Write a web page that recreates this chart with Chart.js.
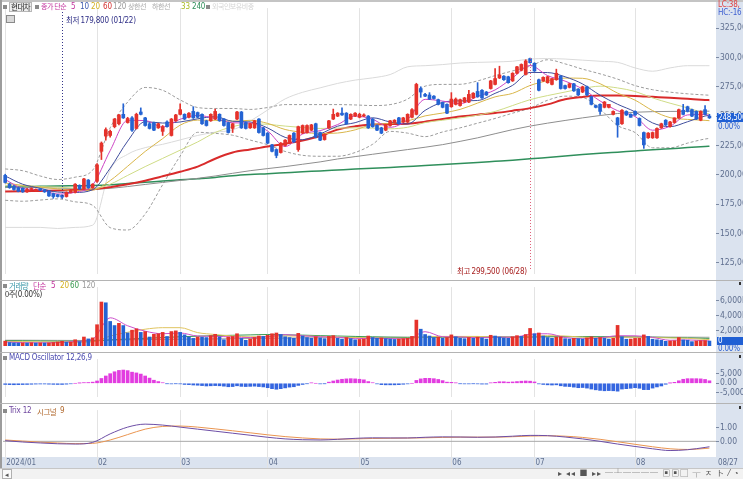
<!DOCTYPE html>
<html lang="ko"><head><meta charset="utf-8">
<script src="https://cdn.jsdelivr.net/npm/chart.js@4.4.1/dist/chart.umd.min.js"></script>
<style>
html,body{margin:0;padding:0}
body{width:743px;height:479px;overflow:hidden;position:relative;background:#fff}
canvas{position:absolute;left:0}
.t{position:absolute;white-space:nowrap;font-family:"Noto Sans CJK KR","Noto Sans",sans-serif;font-size:7px;line-height:9px;letter-spacing:-0.5px}
.n{font-family:"Liberation Sans Narrow","DejaVu Sans Condensed",sans-serif;font-size:8px;letter-spacing:-0.2px}
.hl{position:absolute;left:0;width:743px;height:1px;background:#b4b4b4}
.sq{position:absolute;width:4px;height:4px;background:#8a8a8a}
</style></head><body>
<canvas id="cPrice" width="760" height="278" style="top:2px"></canvas>
<canvas id="cVol" width="760" height="71" style="top:281px"></canvas>
<canvas id="cMacd" width="760" height="50" style="top:353px"></canvas>
<canvas id="cTrix" width="760" height="64" style="top:404px"></canvas>

<div class="hl" style="top:0;background:#c4c4c4;height:2px"></div>
<div style="position:absolute;left:0;top:0;width:2px;height:468px;background:#9c9c9c"></div>
<div class="hl" style="top:280px"></div>
<div class="hl" style="top:352px"></div>
<div class="hl" style="top:403px"></div>

<!-- price header -->
<div class="sq" style="left:3px;top:5px"></div>
<div class="t" style="left:9px;top:2px;border:1px solid #b8b8b8;background:#eeeeee;color:#222;padding:0 1px;line-height:8px;font-size:7.5px">현대차</div>
<div class="sq" style="left:35px;top:5px"></div>
<div class="t" style="left:41px;top:2px;color:#c2309c">종가 단순</div>
<div class="t n" style="left:71px;top:2px;color:#c2309c">5</div>
<div class="t n" style="left:80px;top:2px;color:#3c5ab0">10</div>
<div class="t n" style="left:91px;top:2px;color:#d4b020">20</div>
<div class="t n" style="left:103px;top:2px;color:#d43030">60</div>
<div class="t n" style="left:113px;top:2px;color:#9a9a9a">120</div>
<div class="t" style="left:128px;top:2px;color:#a8a8a8">상한선</div>
<div class="t" style="left:152px;top:2px;color:#a8a8a8">하한선</div>
<div class="t n" style="left:181px;top:2px;color:#a9bb22">33</div>
<div class="t n" style="left:192px;top:2px;color:#2f8f5b">240</div>
<div class="sq" style="left:206px;top:5px"></div>
<div class="t" style="left:212px;top:2px;color:#d4d4d4">외국인보유비중</div>
<div style="position:absolute;left:6px;top:15px;width:7px;height:6px;border:1px solid #8a8a8a;background:#d8d8d8"></div>
<div class="t n" style="left:718px;top:0px;color:#e04040">LC:38,</div>
<div class="t n" style="left:718px;top:8px;color:#3c5ed0">HC:-16</div>
<div id="lowTxt" class="t" style="left:66px;top:15px;color:#2e2e86;font-size:7.5px">최저 <span class="n">179,800 (01/22)</span></div>
<div id="highTxt" class="t" style="left:457px;top:266px;color:#a82020;font-size:7.5px">최고 <span class="n">299,500 (06/28)</span></div>
<div id="curBox" class="t n" style="left:717px;top:112px;width:26px;height:9px;line-height:9px;background:#1f5fd4;color:#fff;padding-left:1px">248,500</div>
<div id="curPct" class="t n" style="left:718px;top:120px;color:#2a5fd0">0.00%</div>

<!-- volume header -->
<div class="sq" style="left:3px;top:284px"></div>
<div class="t" style="left:9px;top:281px;color:#3a98a8;font-size:7.5px">거래량</div>
<div class="t" style="left:33px;top:281px;color:#c2309c;font-size:7.5px">단순</div>
<div class="t n" style="left:51px;top:281px;color:#c2309c">5</div>
<div class="t n" style="left:60px;top:281px;color:#d4b020">20</div>
<div class="t n" style="left:70px;top:281px;color:#3a9a50">60</div>
<div class="t n" style="left:82px;top:281px;color:#9a9a9a">120</div>
<div class="t" style="left:5px;top:289px;color:#333;font-size:7.5px">0주<span class="n">(0.00%)</span></div>
<div class="t n" style="left:717px;top:337px;width:26px;height:8px;line-height:8px;background:#1f5fd4;color:#fff;padding-left:1px">0</div>
<div class="t n" style="left:718px;top:344px;color:#2a5fd0">0.00%</div>

<!-- macd header -->
<div class="sq" style="left:3px;top:356px"></div>
<div class="t n" style="left:9px;top:353px;color:#4b4bb0">MACD Oscillator 12,26,9</div>
<!-- trix header -->
<div class="sq" style="left:3px;top:409px"></div>
<div class="t n" style="left:9px;top:406px;color:#7048a0">Trix 12</div>
<div class="t" style="left:37px;top:407px;color:#b0682c;font-size:7.5px">시그널</div>
<div class="t n" style="left:60px;top:406px;color:#b0682c">9</div>

<div class="t n" style="left:718px;top:458px;color:#5f6f8f">08/27</div>
<div style="position:absolute;left:739px;top:282px;width:2px;height:3px;background:#333"></div>
<div style="position:absolute;left:739px;top:355px;width:2px;height:3px;background:#333"></div>
<div style="position:absolute;left:739px;top:406px;width:2px;height:3px;background:#333"></div>

<!-- bottom toolbar -->
<div style="position:absolute;left:0;top:468px;width:743px;height:11px;background:#f2f2f2;border-top:1px solid #c6c6c6"></div>
<div class="t" style="left:2px;top:469px;width:8px;height:8px;border:1px solid #b0b0b0;background:#fafafa;color:#555;font-size:7px;line-height:8px;text-align:center">◂</div>
<div class="t" style="left:558px;top:468px;color:#555;font-size:8px;letter-spacing:1px">▸ ◂◂ ■ ▸▸ ─┴──── ▣▣▢ ┬ ㅈ ト ⁄ ◔ ▣ Q − + A</div>

<script>
// ===== 날짜 축 =====
const monthNames = ['2024/01','02','03','04','05','06','07','08'];
const monthStart = [0,21,40,60,81,102,121,144];

// ===== 일봉 (단위: 천원) =====
const opens = [199.5,192,190,189,188.5,185.5,187.5,186.5,187.5,187,
186,184,183,182.5,181.5,185,185,191,188,195.5,
189,194.5,220,233,233.5,241,243.5,251.5,244.5,248.5,
239.5,253.5,248.5,243.5,244.5,240,237,245,233.5,246,
251.5,251.5,249,254,253,251.5,246,246,247.5,251.5,
247.5,244.5,239.5,247.5,253.5,244.5,240,240,247.5,240,
235.5,225.5,221.5,219,225,227,235.5,221.5,235.5,236,
238,243.5,236,230,240,247.5,250,252.5,252.5,247.5,
250,249,250,250,247.5,242,240,238,242,244.5,
248.5,245,245,249,251.5,273.5,268.5,268,267,264,
261.5,260,258,260,259,262,262,265.5,271,272,
270.5,273.5,277,282.5,284,283.5,280,286.5,289,285.5,
299,295,281,280,278.5,277,281,284,276,274.5,
277.5,273,270.5,275,266.5,259,260,257.5,257.5,251.5,
248.5,243.5,254,251.5,254,248,236,231.5,231.5,231.5,
240,246.5,241,244.5,248.5,255,258,255.5,254,246.5,
255.5,250];
const highs = [200.5,193,191,189.5,189,188.5,189,188,188.5,187.5,
186.5,184.5,183.5,183,185.5,187.5,192.5,191.5,197,196,
192.5,209.5,228,240,238,248,251.5,260.5,249,249.5,
252.5,257,249,244.5,245,244,242,246,248,251.5,
260.5,252,253,258,253.5,252,246.5,252,256,252,
248,245,244,254,254,245,244,246.5,248,240.5,
236,226,222,227.5,230,234,236,241.5,242.5,242.5,
243,244,236.5,235,246.5,256,253,257,253,252,
253,252.5,252,250.5,248,242.5,240.5,243,246.5,247,
249,249,252,256.5,278,275,269.5,270,267.5,264.5,
262,260.5,270,265.5,264.5,266,272,270,278.5,272.5,
271,280.5,290.5,292.5,284.5,284,287,292.5,294.5,298,
299.5,295.5,281.5,283.5,284,282,290,284.5,276.5,278,
278,273.5,275.5,275.5,267,259.5,260.5,262.5,260,254.5,
249,255.5,254.5,252,254.5,248.5,236.5,236,236.5,240,
244,247,245.5,248.5,256,260,258.5,256,254.5,254.5,
259,251.5];
const lows = [193,188.5,187,185.5,185,185,187,186,186.5,185,
181.5,180,181,179.8,181,184.5,184.5,187.5,187.5,188.5,
188.5,193.5,213,229.5,232,240,242.5,248,244,237,
239,251,241.5,239,237.5,239.5,233.5,240.5,233,245.5,
251,247,248.5,248,248.5,243,241.5,245.5,247,245.5,
241.5,235.5,236,247,239.5,239,239.5,239.5,235.5,233,
226.5,219.5,214.5,218.5,224.5,226.5,227.5,220,235,235.5,
237.5,231.5,229,229.5,239.5,247,249.5,250.5,243,247,
249.5,248.5,249.5,239.5,240.5,237.5,235,237.5,241.5,244,
243,244.5,244.5,248.5,251,266,266.5,264,264.5,259.5,
257,252,257.5,259.5,258.5,261.5,261.5,265,266,265,
267.5,273,276.5,282,280.5,278,279.5,286,288.5,285,
295,288,271.5,279.5,278,276.5,280.5,273,273,274,
271,267.5,270,267.5,259.5,257,251.5,257,257,251,
232,243,250.5,249,250.5,241.5,222.5,231,231,231,
239.5,242,240.5,244,248,251,253.5,249.5,247,246,
251,248];
const closes = [193.5,189,187.5,186,185.5,187.5,188,187.5,187,185.5,
182,181.5,181.5,181,185,187,192,188,196.5,189,
192,208.5,227,238.5,237,247.5,251,248.5,248,238,
251.5,251.5,242,239.5,238,243.5,241,241,247.5,251,
255.5,247.5,252.5,248.5,249,243.5,242,251.5,254,246,
242,236,243.5,253.5,240,239.5,243.5,246,236,233.5,
227,220,216.5,227,229.5,233.5,228,241,242,242,
242.5,232,229.5,234.5,246,251.5,252.5,251,243.5,251.5,
252.5,251.5,251,240,241,238,235.5,242.5,246,246.5,
243.5,248.5,251.5,255.5,277,270.5,267,264.5,265,260,
257.5,252.5,264.5,264.5,264,265.5,268.5,269.5,266.5,265.5,
268,280,282,285,281,278.5,286.5,292,294,297,
295.5,288.5,272,283,283.5,282,286.5,273.5,273.5,277.5,
271.5,268,275,268,260,257.5,254,262,260,254,
242.5,255,251,249,251,242,225.5,235.5,236,239.5,
243.5,242.5,245,248.5,255.5,251.5,254,250,247.5,254,
251.5,248.5];
const lowIdx = 13, lowPrice = 179.8, highIdx = 120, highPrice = 299.5;

// ===== 보조선 (읽은 지점) =====
const sampleIdx = [0,4,8,12,16,20,24,28,32,36,40,44,48,52,56,60,64,68,72,76,80,84,88,92,96,100,104,108,112,116,120,124,128,132,136,140,144,148,152,156,160,161];
const ma5 = [196,188.4,187.2,183.6,185.2,191.4,220.6,246.4,246.2,240.7,247.3,250.6,248,244.3,244,237.3,224.1,234.8,237.6,242.8,250.1,247.2,240.5,247.2,264.3,262.8,260.6,266.8,272.3,282.6,293.1,284.5,279.8,273.1,262.9,254.6,249.7,238,241.4,251,251.5,250.4];
const ma10 = [199,192,188.5,185.3,185,187.3,205.6,228.7,245.3,244.1,245,247.7,249.5,245.6,245,239.9,231.9,229.9,234.8,241.4,244.4,248.6,245,243.3,254.9,261.7,263,263.3,269.4,276.2,287.2,287.1,283.5,277.4,267.8,260.1,253.6,244.2,241,245.2,250.1,250.7];
const ma20 = [193,191,189.5,188,186.5,187,195.1,207.3,219.9,230.8,242.3,246.6,246.4,245.7,246.4,243.8,238.6,236.2,235.2,235.6,238.3,242.9,243.7,245.9,250.2,252.6,255.7,261.1,266.4,269.4,276.1,280.1,282.4,282.2,277.6,269.6,263.6,254.7,248.7,247.2,246.4,246.1];
const ma33 = [191,190.5,190,189.5,188.5,188,192,199.5,207,214,221,228,236,241,243.5,243,241.5,240.3,239.5,239.8,240,239.8,239.2,240.5,244.5,246.5,248.5,250.8,254,259,264,267.5,270.5,273.5,275.5,274,271,265.5,261,257,252.5,251.8];
const ma60 = [185.7,186,186.3,186.6,187,187.6,189.5,192,195,198.7,202.6,207,213.7,219,221.6,224.2,226.5,229.3,233,238.5,241.3,242.8,243.3,243.5,245.2,247.5,249.7,251.2,252.6,254.6,256.8,260,264.3,266.3,267.6,267.6,267.2,266.4,265.6,264.7,263.8,263.6];
const ma120 = [189.5,189.3,189,188.7,188.3,187.8,188.5,190,191.8,193.5,195.2,197,199,201.3,203.5,205.3,207,209,211,213.5,215.5,217.5,219.5,221.5,223.5,225.7,228.5,231.5,235,238.5,241.5,244,246.3,248.5,250.5,252.2,253.3,253.8,254,254.1,254.2,254.2];
const ma240 = [189.7,190,190.2,190.4,190.7,191,191.6,192.6,193.6,194.7,195.7,196.7,197.8,199.3,200.3,201,201.8,202.6,203.3,204.1,204.9,205.6,206.3,207.1,207.9,208.8,209.6,210.5,211.5,212.5,213.6,214.8,216,217.2,218.3,219.3,220.3,221.3,222.2,223.2,224.1,224.3];
const bbUpper = [205,203.5,199,196,198,204,240,262,274.4,272,263.8,257.3,256.5,256.5,255.7,257.3,259.8,259.8,259.8,259.8,259.5,259,259.8,264.5,275.5,277,277.1,280,284.5,288.5,292.5,298,294.5,290,286,281.5,276,272.5,270.4,269,268,267.8];
const bbLower = [178.3,177.5,178.5,179.5,177,174,155,153,166.6,191.6,216,236.2,235.3,233.7,229.6,225.6,219.9,216.6,215.8,215.8,219,226,237,235.5,232.5,236.5,240,244,248,252.5,256.8,263.5,267,266,256,242,236,223,223,227,230.5,231];
const foreignPct = [32.1,32.1,32.1,32.05,32.1,32.2,34.7,35.4,35.7,35.85,36.05,36.25,36.4,36.5,36.9,37.4,37.9,38.2,38.4,38.6,38.75,38.85,39,39.35,39.4,39.45,39.52,39.55,39.57,39.6,39.7,39.72,39.7,39.65,39.6,39.55,39.3,39.15,39.3,39.4,39.4,39.4];

// ===== 거래량 (천주) =====
const volumes = [630,450,400,380,400,380,420,380,400,380,400,450,520,600,480,500,810,560,1170,920,1060,
2790,5780,5680,3220,2680,2970,2680,1710,2070,2250,1780,1890,1170,1530,1600,1780,1240,1890,1980,
1780,1460,1170,990,1170,1150,1100,1350,1530,1170,810,1170,1240,1600,990,740,900,1100,1300,1250,
1400,1600,1700,1500,1200,1100,1000,1650,1300,1100,1000,1200,1050,950,1250,1350,1000,900,1100,950,800,
850,900,1300,1100,1000,1050,950,900,850,900,950,1000,1250,3400,2200,1500,1300,1100,1150,1000,1100,
1450,1200,1000,950,1100,1000,1150,1050,900,1400,1300,1150,1050,1000,1200,1350,1250,1500,2300,
1600,1700,1300,1100,1000,1150,1200,950,900,1000,950,900,1050,1200,1000,1100,1000,900,1000,2700,1200,880,900,
990,1010,1450,1250,880,810,740,600,650,680,1100,780,740,560,650,680,700,640];
const volMa5 = [520,420,400,430,580,900,3700,2650,1940,1600,1700,1300,1260,1170,1100,1200,1480,1330,1200,1150,950,1010,960,920,1870,1210,1180,1060,1150,1140,1520,1600,1100,950,1050,1340,1330,1120,740,790,670,650];
const volMa20 = [600,560,520,500,480,520,1300,1800,2200,2400,2400,1750,1500,1300,1200,1250,1300,1300,1250,1150,1100,1050,1000,1000,1150,1250,1250,1250,1150,1150,1250,1350,1300,1150,1050,1150,1150,1100,1050,1000,850,840];
const volMa60 = [700,680,650,630,620,640,800,900,1000,1100,1200,1280,1350,1400,1450,1500,1450,1420,1350,1300,1250,1200,1150,1120,1130,1150,1150,1160,1150,1150,1170,1200,1220,1220,1200,1200,1180,1150,1100,1060,1000,990];
const volMa120 = [750,750,740,730,720,720,760,800,830,860,880,900,920,950,980,1000,1030,1060,1080,1100,1110,1130,1150,1150,1160,1170,1180,1190,1200,1200,1210,1220,1210,1200,1190,1190,1180,1170,1160,1150,1140,1140];

// ===== MACD Oscillator (12,26,9) =====
const macdOsc = [-600,-700,-750,-700,-650,-600,-500,-400,-350,-350,-450,-550,-600,-600,-450,-250,0,100,350,400,600,
1200,2500,3800,5000,6000,6700,6900,6600,5800,5400,4800,3800,2700,1600,900,300,-200,-300,-200,
-300,-600,-700,-900,-1000,-1200,-1400,-1300,-1200,-1300,-1500,-1800,-1700,-1300,-1600,-1700,-1600,-1500,-1700,-1900,
-2300,-2800,-3100,-2800,-2400,-2000,-1800,-1100,-600,-200,200,0,-300,-200,600,1200,1700,2100,2300,2400,2300,
2100,1800,900,300,-300,-700,-800,-800,-800,-700,-500,-300,0,1500,2300,2600,2600,2400,2000,1400,600,
500,200,-200,-300,-300,-200,-300,-400,-400,200,500,800,800,600,700,900,1100,1200,1100,
700,-300,-600,-800,-900,-800,-1300,-1600,-1700,-2000,-2300,-2200,-2500,-3000,-3400,-3700,-3900,-3800,-3900,-4100,-3000,-2800,-2600,
-2300,-2600,-3300,-3300,-2500,-1900,-1400,-500,100,500,1300,2100,2400,2400,2400,2300,2000,1300];

// ===== Trix (12) / 시그널 (9) =====
const trix = [0.05,-0.05,-0.12,-0.18,-0.2,-0.08,0.55,1.05,1.27,1.2,1.05,0.9,0.75,0.6,0.45,0.3,0.18,0.12,0.1,0.15,0.22,0.26,0.25,0.25,0.3,0.33,0.32,0.3,0.32,0.38,0.44,0.42,0.32,0.18,0.0,-0.2,-0.38,-0.55,-0.68,-0.62,-0.45,-0.4];
const trixSignal = [0.1,0.02,-0.06,-0.12,-0.17,-0.15,0.1,0.5,0.9,1.1,1.13,1.05,0.92,0.78,0.63,0.48,0.35,0.25,0.18,0.16,0.18,0.21,0.23,0.24,0.26,0.29,0.31,0.31,0.31,0.34,0.39,0.41,0.38,0.29,0.15,-0.03,-0.22,-0.4,-0.55,-0.6,-0.53,-0.5];

// ===== 차트 =====
const N = closes.length;
const idx = Array.from({length: N}, (_, i) => i);
const UP = '#e5322b', DN = '#2463d3';
const FONT_N = '"Liberation Sans Narrow","DejaVu Sans Condensed",sans-serif';
const candleCol = idx.map(i => closes[i] >= opens[i] ? UP : DN);
const volCol = idx.map(i => (i === 0 || volumes[i] >= volumes[i-1]) ? UP : DN);
const macdCol = macdOsc.map(v => v >= 0 ? '#e23ce0' : '#3566e0');
const pts = arr => sampleIdx.map((x, k) => ({x, y: arr[k]}));
const fmtInt = v => Math.round(v).toLocaleString('en-US');

function line(arr, color, w, order, extra) {
  return Object.assign({type: 'line', data: pts(arr), borderColor: color, borderWidth: w, pointRadius: 0,
    cubicInterpolationMode: 'monotone', fill: false, order}, extra || {});
}
function xScale(showLabels) {
  return {
    type: 'linear', min: -0.5, max: 162.5, offset: false,
    afterBuildTicks: s => { s.ticks = monthStart.map(v => ({value: v})); },
    afterFit: s => { s.height = showLabels ? 11 : 0; },
    grid: {color: '#e3e3e3', lineWidth: 1, offset: false, drawTicks: showLabels, tickLength: showLabels ? 11 : 0},
    border: {display: false},
    ticks: {display: showLabels, autoSkip: false, maxRotation: 0, align: 'start', padding: -10, labelOffset: 1,
      color: '#5f6f8f', font: {family: FONT_N, size: 8}, callback: (v, i) => monthNames[i]}
  };
}
function yScale(min, max, tickVals, fmt) {
  return {
    position: 'right', min, max,
    afterBuildTicks: s => { s.ticks = tickVals.map(v => ({value: v})); },
    afterFit: s => { s.width = 44; },
    grid: {drawOnChartArea: false, drawTicks: true, tickLength: 3, color: '#7c8aa3'},
    border: {display: false},
    ticks: {padding: 1, color: '#5f6f8f', font: {family: FONT_N, size: 8.5}, callback: fmt}
  };
}
const stripPlugin = {id: 'strip', beforeDraw(c) {
  const {ctx, chartArea: a, width, height} = c;
  ctx.save(); ctx.fillStyle = '#dbe3ef';
  ctx.fillRect(a.right, 0, width - a.right, height);
  if (c.canvas.id === 'cTrix') ctx.fillRect(0, a.bottom, width, height - a.bottom);
  ctx.restore();
}};
function baseOpts(scales) {
  return {responsive: false, animation: false, devicePixelRatio: 1,
    layout: {padding: {left: 3, right: 0, top: 0, bottom: 0}},
    plugins: {legend: {display: false}, tooltip: {enabled: false}},
    scales};
}
const markPlugin = {id: 'marks', afterDatasetsDraw(c) {
  const {ctx, scales: {x, y}} = c;
  ctx.save(); ctx.lineWidth = 1; ctx.setLineDash([1, 2]);
  ctx.strokeStyle = '#34348a';
  const xl = Math.round(x.getPixelForValue(lowIdx)) + 0.5;
  ctx.beginPath(); ctx.moveTo(xl, 10); ctx.lineTo(xl, y.getPixelForValue(lowPrice)); ctx.stroke();
  ctx.strokeStyle = '#e0607a';
  const xh = Math.round(x.getPixelForValue(highIdx)) + 0.5;
  ctx.beginPath(); ctx.moveTo(xh, y.getPixelForValue(highPrice)); ctx.lineTo(xh, c.chartArea.bottom - 4); ctx.stroke();
  ctx.restore();
}};

const priceChart = new Chart(document.getElementById('cPrice'), {
  type: 'bar',
  data: {datasets: [
    {type: 'bar', data: idx.map(i => ({x: i, y: [opens[i], closes[i]]})), backgroundColor: candleCol, barThickness: 3, minBarLength: 1, grouped: false, order: 0},
    {type: 'bar', data: idx.map(i => ({x: i, y: [lows[i], highs[i]]})), backgroundColor: candleCol, barThickness: 1, grouped: false, order: 1},
    line(ma5, '#cc44c4', 1, 2),
    line(ma10, '#3f4d9c', 1, 3),
    line(ma20, '#d9b64a', 1, 4),
    line(ma33, '#cfdc86', 1, 5),
    line(ma60, '#d92b2b', 2, 6),
    line(ma120, '#8e8e8e', 1, 7),
    line(ma240, '#2f8f5b', 1.5, 8),
    line(bbUpper, '#9c9c9c', 1, 9, {borderDash: [3, 2]}),
    line(bbLower, '#9c9c9c', 1, 9, {borderDash: [3, 2]}),
    line(foreignPct, '#dadada', 1, 10, {yAxisID: 'yF'})
  ]},
  options: baseOpts({
    x: xScale(false),
    y: yScale(115.6, 342.0, [125,150,175,200,225,250,275,300,325], v => fmtInt(v * 1000)),
    yF: {display: false, min: 30, max: 42}
  }),
  plugins: [stripPlugin, markPlugin]
});

new Chart(document.getElementById('cVol'), {
  type: 'bar',
  data: {datasets: [
    {type: 'bar', data: idx.map(i => ({x: i, y: volumes[i]})), backgroundColor: volCol, barThickness: 3, grouped: false, order: 0},
    line(volMa5, '#cc50cc', 1, 1),
    line(volMa20, '#e0c460', 1, 2),
    line(volMa60, '#3a9a50', 1, 3),
    line(volMa120, '#a0a0a0', 1, 4)
  ]},
  options: baseOpts({
    x: xScale(false),
    y: yScale(0, 7745, [2000, 4000, 6000], v => fmtInt(v) + 'K')
  }),
  plugins: [stripPlugin]
});

new Chart(document.getElementById('cMacd'), {
  type: 'bar',
  data: {datasets: [
    {type: 'bar', data: idx.map(i => ({x: i, y: macdOsc[i]})), backgroundColor: macdCol, barThickness: 3, grouped: false}
  ]},
  options: baseOpts({
    x: xScale(false),
    y: yScale(-7087, 12600, [-5000, 0, 5000], v => v === 0 ? '0.00' : fmtInt(v))
  }),
  plugins: [stripPlugin]
});

new Chart(document.getElementById('cTrix'), {
  type: 'line',
  data: {datasets: [
    line(trix, '#6d4ea6', 1, 0),
    line(trixSignal, '#ea9550', 1, 1),
    {type: 'line', data: [{x: -0.5, y: 0}, {x: 162.5, y: 0}], borderColor: '#a8a8a8', borderWidth: 1, pointRadius: 0, order: 2}
  ]},
  options: baseOpts({
    x: xScale(true),
    y: yScale(-1.157, 2.307, [0, 1], v => v.toFixed(2))
  }),
  plugins: [stripPlugin]
});

// 텍스트 위치를 축에 맞춤
const sx = priceChart.scales.x, sy = priceChart.scales.y;
document.getElementById('lowTxt').style.left = (sx.getPixelForValue(lowIdx) + 4) + 'px';
document.getElementById('highTxt').style.left = (sx.getPixelForValue(highIdx) - 73) + 'px';
const cy = 2 + sy.getPixelForValue(closes[N - 1]);
document.getElementById('curBox').style.top = (cy - 4.5) + 'px';
document.getElementById('curPct').style.top = (cy + 4) + 'px';
</script>
</body></html>
